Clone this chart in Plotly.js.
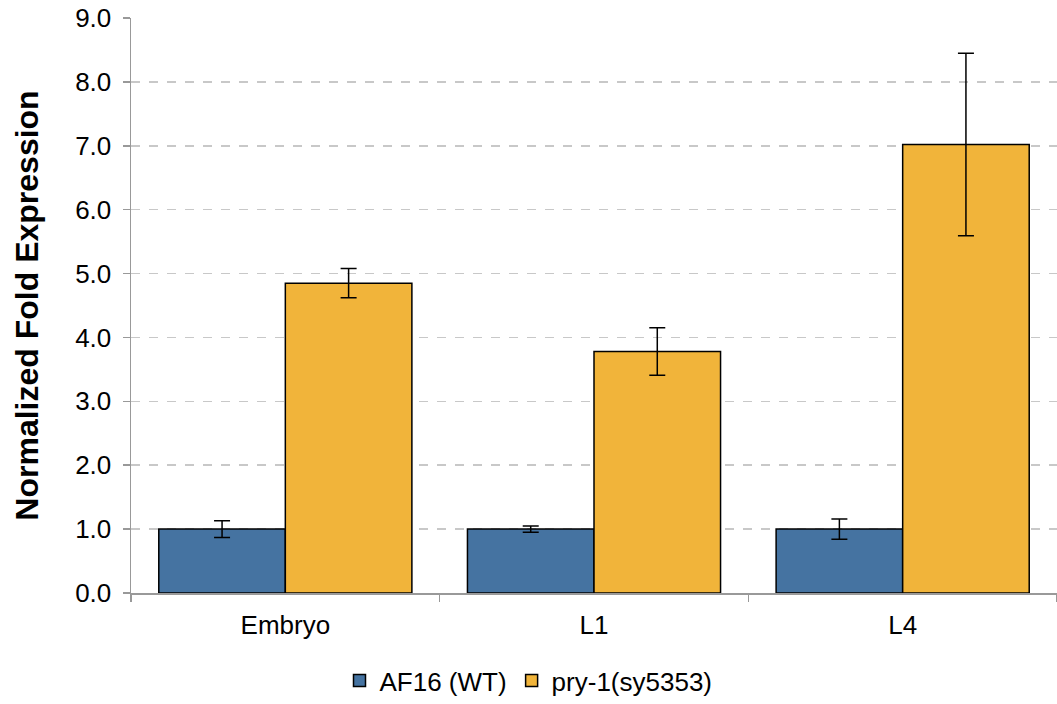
<!DOCTYPE html>
<html><head><meta charset="utf-8">
<script src="https://cdn.plot.ly/plotly-3.0.1.min.js"></script>
<style>html,body{margin:0;padding:0;background:#fff;}#chart{width:1057px;height:704px;}</style>
</head><body><div id="chart"></div>
<script>
const categories = ["Embryo", "L1", "L4"];
const wtValues = [1.0, 1.0, 1.0];
const wtErrors = [0.13, 0.05, 0.16];
const pryValues = [4.85, 3.78, 7.02];
const pryErrors = [0.23, 0.37, 1.43];
const yTicks = [0,1,2,3,4,5,6,7,8,9];
const yTickLabels = ["0.0","1.0","2.0","3.0","4.0","5.0","6.0","7.0","8.0","9.0"];

const errStyle = {type:"data", visible:true, color:"#000", thickness:1.5, width:8};
const data = [
  {type:"bar", name:"AF16 (WT)", x:categories, y:wtValues,
   error_y:Object.assign({array:wtErrors}, errStyle),
   marker:{color:"#4573a1", line:{color:"#000", width:1.5}}},
  {type:"bar", name:"pry-1(sy5353)", x:categories, y:pryValues,
   error_y:Object.assign({array:pryErrors}, errStyle),
   marker:{color:"#f1b43a", line:{color:"#000", width:1.5}}}
];
const layout = {
  width:1057, height:704,
  margin:{l:131, r:0, t:18, b:111},
  paper_bgcolor:"#fff", plot_bgcolor:"#fff",
  font:{family:"Liberation Sans, Arial, sans-serif", color:"#000"},
  barmode:"group", bargap:0.18, bargroupgap:0,
  showlegend:true,
  legend:{orientation:"h", x:0.5, xref:"container", xanchor:"center", y:0.0, yref:"container", yanchor:"bottom",
          font:{size:26}, itemwidth:30, traceorder:"normal", tracegroupgap:0},
  xaxis:{type:"category", showline:true, linecolor:"#999", linewidth:1.5, automargin:false,
         ticks:"outside", tickson:"boundaries", ticklen:7, tickcolor:"#999", tickwidth:1.5,
         ticklabelstandoff:8,
         tickfont:{size:26}, showgrid:false, zeroline:false},
  yaxis:{range:[0,9], tickvals:yTicks, ticktext:yTickLabels, automargin:false,
         showline:true, linecolor:"#999", linewidth:1.5,
         ticks:"outside", ticklen:7, tickcolor:"#999", tickwidth:1.5,
         ticklabelstandoff:6,
         tickfont:{size:26}, showgrid:true, gridcolor:"#c8c8c8", griddash:"dash", gridwidth:1.5,
         zeroline:false,
         title:{text:"<b>Normalized Fold Expression</b>", font:{size:32}, standoff:27}}
};
Plotly.newPlot("chart", data, layout, {displayModeBar:false, staticPlot:true});
</script></body></html>
